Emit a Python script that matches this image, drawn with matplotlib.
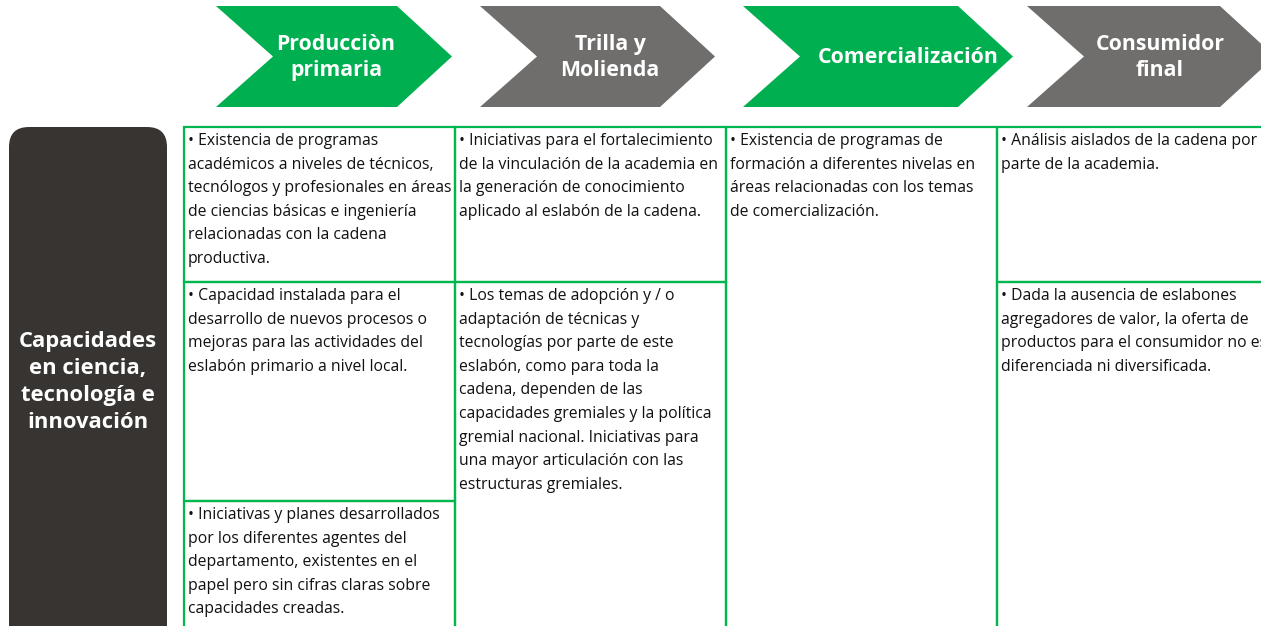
import matplotlib.pyplot as plt
from matplotlib.patches import Polygon, Rectangle, FancyBboxPatch

# etapas de la cadena
etapas = ["Producciòn\nprimaria", "Trilla y\nMolienda", "Comercialización", "Consumidor\nfinal"]
colores_etapa = ["#00AF50", "#6F6E6C", "#00AF50", "#6F6E6C"]

titulo_fila = "Capacidades\nen ciencia,\ntecnología e\ninnovación"

col_produccion = [
    ["• Existencia de programas", "académicos a niveles de técnicos,",
     "tecnólogos y profesionales en áreas", "de ciencias básicas e ingeniería",
     "relacionadas con la cadena", "productiva."],
    ["• Capacidad instalada para el", "desarrollo de nuevos procesos o",
     "mejoras para las actividades del", "eslabón primario a nivel local."],
    ["• Iniciativas y planes desarrollados", "por los diferentes agentes del",
     "departamento, existentes en el", "papel pero sin cifras claras sobre",
     "capacidades creadas."],
]
col_trilla = [
    ["• Iniciativas para el fortalecimiento", "de la vinculación de la academia en",
     "la generación de conocimiento", "aplicado al eslabón de la cadena."],
    ["• Los temas de adopción y / o", "adaptación de técnicas y",
     "tecnologías por parte de este", "eslabón, como para toda la",
     "cadena, dependen de las", "capacidades gremiales y la política",
     "gremial nacional. Iniciativas para", "una mayor articulación con las",
     "estructuras gremiales."],
]
col_comercial = [
    ["• Existencia de programas de", "formación a diferentes nivelas en",
     "áreas relacionadas con los temas", "de comercialización."],
]
col_consumidor = [
    ["• Análisis aislados de la cadena por", "parte de la academia."],
    ["• Dada la ausencia de eslabones", "agregadores de valor, la oferta de",
     "productos para el consumidor no es", "diferenciada ni diversificada."],
]
columnas = [col_produccion, col_trilla, col_comercial, col_consumidor]

# layout (pixels)
W, H = 1261, 626
chev_left = [216, 480, 743, 1027]
chev_right = [397, 660, 958, 1220]
chev_text_x = [336, 610, 908, 1160]
chev_top, chev_bot, tip, notch = 6, 107, 55, 57
col_x = [184, 455, 726, 997, 1268]
row_breaks = [[127, 282, 501, 700], [127, 282, 700], [127, 700], [127, 282, 700]]
line_h = 23.6
verde_linea = "#00B74F"

fig = plt.figure(figsize=(W / 100, H / 100), dpi=100)
ax = fig.add_axes([0, 0, 1, 1])
ax.set_xlim(0, W)
ax.set_ylim(H, 0)
ax.axis("off")

font_head = ["Open Sans", "DejaVu Sans"]
font_cell = ["Open Sans", "DejaVu Sans"]
cell_sizes = [11.3, 11.35, 11.35, 11.3]

mid = (chev_top + chev_bot) / 2
for i, etapa in enumerate(etapas):
    l, r = chev_left[i], chev_right[i]
    pts = [(l, chev_top), (r, chev_top), (r + tip, mid), (r, chev_bot),
           (l, chev_bot), (l + notch, mid)]
    ax.add_patch(Polygon(pts, closed=True, facecolor=colores_etapa[i], edgecolor="none"))
    ax.text(chev_text_x[i], mid + 1, etapa, color="white", fontsize=15.3,
            fontweight="bold", ha="center", va="center", linespacing=1.35,
            family=font_head)

# caja oscura lateral
ax.add_patch(FancyBboxPatch((9, 127), 158, 560, boxstyle="round,pad=0,rounding_size=20",
                            facecolor="#383431", edgecolor="none"))
ax.text(88, 382, titulo_fila, color="white", fontsize=15.8, fontweight="bold",
        ha="center", va="center", linespacing=1.36, family=font_head)

# celdas
for c, celdas in enumerate(columnas):
    x0, x1 = col_x[c], col_x[c + 1]
    for k, lineas in enumerate(celdas):
        y0, y1 = row_breaks[c][k], row_breaks[c][k + 1]
        ax.add_patch(Rectangle((x0, y0), x1 - x0, y1 - y0, facecolor="none",
                               edgecolor=verde_linea, linewidth=1.6))
        for j, txt in enumerate(lineas):
            ax.text(x0 + 4, y0 + 14 + j * line_h, txt, fontsize=cell_sizes[c],
                    color="#111111", ha="left", va="center", family=font_cell)

fig.savefig("out.png", dpi=100, facecolor="white")
